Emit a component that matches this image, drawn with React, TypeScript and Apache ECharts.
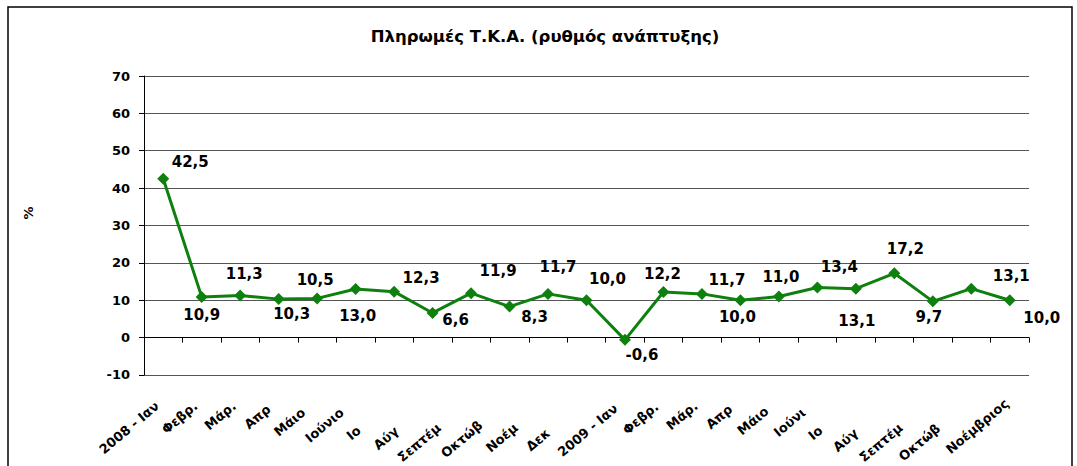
import React, { useEffect, useRef } from "react";
import * as echarts from "echarts";

const categories = [
  "2008 - Ιαν", "Φεβρ.", "Μάρ.", "Απρ", "Μάιο", "Ιούνιο", "Ιο", "Αύγ", "Σεπτέμ", "Οκτώβ", "Νοέμ", "Δεκ",
  "2009 - Ιαν", "Φεβρ.", "Μάρ.", "Απρ", "Μάιο", "Ιούνι", "Ιο", "Αύγ", "Σεπτέμ", "Οκτώβ", "Νοέμβριος",
];
const values = [
  42.5, 10.9, 11.3, 10.3, 10.5, 13.0, 12.3, 6.6, 11.9, 8.3, 11.7, 10.0,
  -0.6, 12.2, 11.7, 10.0, 11.0, 13.4, 13.1, 17.2, 9.7, 13.1, 10.0,
];
const yMin = -10;
const yMax = 70;
const yStep = 10;
const titleText = "Πληρωμές Τ.Κ.Α. (ρυθμός ανάπτυξης)";
const yName = "%";

// layout only: data label offsets (px) relative to each point
const labelOffsets: [number, number][] = [
  [27, -17], [0, 18], [4, -21], [13, 15], [-2, -18], [2, 27], [27, -14], [23, 7],
  [27, -22], [25, 10], [10, -27], [21, -21], [17, 15], [-1, -18], [25, -14], [-3, 17],
  [2, -20], [22, -21], [1, 32], [11, -24], [-4, 16], [40, -13], [32, 18],
];
// layout only: right padding of each axis label (px)
const labelPads = [
  8, 8, 8, 13, 18, 18, 46, 47, 42, 38, 42, 50,
  12, 9, 8, 13, 16, 18, 46, 50, 42, 43, 4,
];

const FONT = "DejaVu Sans";
const GREEN = "#0e800e";

export default function App() {
  const ref = useRef<HTMLDivElement>(null);
  useEffect(() => {
    if (!ref.current) return;
    const chart = echarts.init(ref.current, undefined, { renderer: "svg" });
    const fmt = (v: number) => v.toFixed(1).replace(".", ",");
    chart.setOption({
      animation: false,
      backgroundColor: "#fff",
      textStyle: { fontFamily: FONT },
      grid: { left: 144, right: 48, top: 76, bottom: 87, containLabel: false },
      graphic: [
        {
          type: "rect",
          shape: { x: 8, y: 7, width: 1064, height: 470 },
          style: { fill: "none", stroke: "#000", lineWidth: 1.5 },
          silent: true,
        },
        {
          type: "text",
          x: 545,
          y: 36,
          style: {
            text: titleText,
            font: `bold 16.5px "${FONT}"`,
            fill: "#000",
            align: "center",
            verticalAlign: "middle",
          },
        },
        {
          type: "text",
          x: 28,
          y: 213,
          rotation: Math.PI / 2,
          style: {
            text: yName,
            font: `bold 13px "${FONT}"`,
            fill: "#000",
            align: "center",
            verticalAlign: "middle",
          },
        },
      ],
      xAxis: [
        {
          type: "category",
          data: categories,
          position: "bottom",
          boundaryGap: true,
          axisLine: { show: true, onZero: true, lineStyle: { color: "#000", width: 1 } },
          axisTick: { show: true, interval: 0, length: 5, alignWithLabel: false, lineStyle: { color: "#000" } },
          axisLabel: { show: false, interval: 0 },
          splitLine: { show: false },
        },
        {
          type: "category",
          data: categories.map((c, i) => ({
            value: c,
            textStyle: { padding: [0, labelPads[i], 0, 0] },
          })),
          position: "bottom",
          boundaryGap: true,
          axisLine: { show: false, onZero: false },
          axisTick: { show: false },
          splitLine: { show: false },
          axisLabel: {
            show: true,
            interval: 0,
            rotate: 40,
            margin: 24,
            color: "#000",
            fontWeight: "bold",
            fontSize: 13,
            fontFamily: FONT,
          },
        },
      ],
      yAxis: {
        type: "value",
        min: yMin,
        max: yMax,
        interval: yStep,
        axisLine: { show: true, lineStyle: { color: "#000", width: 1 } },
        axisTick: { show: true, length: 5, lineStyle: { color: "#000" } },
        axisLabel: {
          color: "#000",
          fontWeight: "bold",
          fontSize: 13,
          margin: 14,
          fontFamily: FONT,
        },
        splitLine: { show: true, lineStyle: { color: "#555", width: 1 } },
      },
      series: [
        {
          type: "line",
          xAxisIndex: 0,
          data: values.map((v, i) => ({
            value: v,
            label: { offset: labelOffsets[i] },
          })),
          symbol: "diamond",
          symbolSize: 12,
          lineStyle: { color: GREEN, width: 3 },
          itemStyle: { color: GREEN },
          label: {
            show: true,
            position: "inside",
            align: "center",
            verticalAlign: "middle",
            color: "#000",
            fontWeight: "bold",
            fontSize: 15,
            fontFamily: FONT,
            formatter: (p: any) => fmt(p.value),
          },
        },
      ],
    });
    return () => chart.dispose();
  }, []);
  return (
    <div
      ref={ref}
      style={{ position: "fixed", left: 0, top: 0, width: 1077, height: 466 }}
    />
  );
}
